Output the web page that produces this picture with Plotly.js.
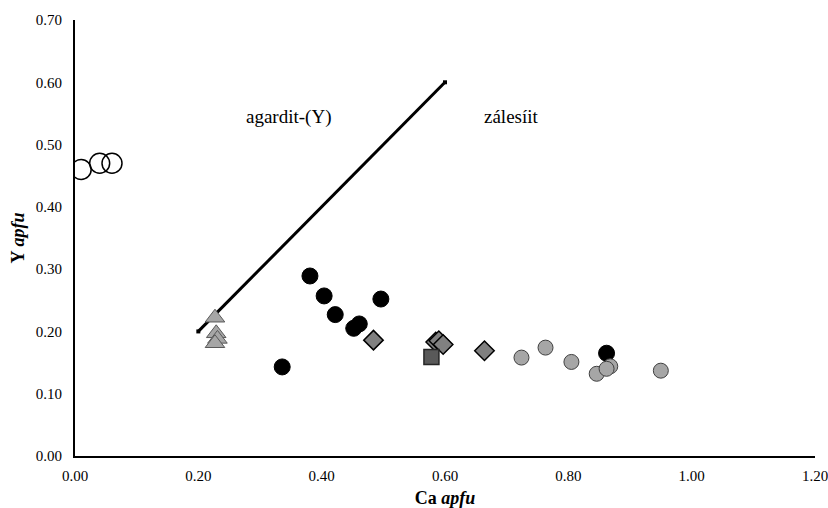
<!DOCTYPE html>
<html><head><meta charset="utf-8">
<script src="https://cdn.plot.ly/plotly-3.0.1.min.js"></script>
<style>body{margin:0;background:#fff}#c{width:828px;height:508px}</style>
</head><body><div id="c"></div>
<script>
// Boundary line agardit-(Y) / zálesíit
const lineCa = [0.20, 0.60];
const lineY  = [0.20, 0.60];
// Open circles
const openCa = [0.01, 0.04, 0.06];
const openY  = [0.46, 0.47, 0.47];
// Gray triangles
const triCa = [0.227, 0.229, 0.231, 0.227];
const triY  = [0.222, 0.197, 0.188, 0.181];
// Black circles
const blackCa = [0.381, 0.404, 0.422, 0.452, 0.461, 0.496, 0.336, 0.862];
const blackY  = [0.289, 0.257, 0.227, 0.205, 0.212, 0.252, 0.143, 0.165];
// Gray diamonds
const diaCa = [0.484, 0.585, 0.590, 0.597, 0.664];
const diaY  = [0.186, 0.183, 0.185, 0.179, 0.169];
// Dark square
const sqCa = [0.578];
const sqY  = [0.159];
// Gray circles
const grayCa = [0.724, 0.763, 0.805, 0.868, 0.846, 0.862, 0.950];
const grayY  = [0.158, 0.174, 0.151, 0.144, 0.132, 0.140, 0.137];

const xTicks = [0, 0.2, 0.4, 0.6, 0.8, 1.0, 1.2];
const yTicks = [0, 0.1, 0.2, 0.3, 0.4, 0.5, 0.6, 0.7];

const serif = 'Liberation Serif';

const traces = [
  {x: lineCa, y: lineY, mode: 'lines+markers', line: {color: '#000', width: 3},
   marker: {symbol: 'square', size: 4, color: '#000'}, hoverinfo: 'skip'},
  {x: openCa, y: openY, mode: 'markers',
   marker: {symbol: 'circle', size: 20, color: 'rgba(255,255,255,0)', line: {color: '#000', width: 1.5}}},
  {x: triCa, y: triY, mode: 'markers',
   marker: {symbol: 'triangle-up', size: 17, color: '#a6a6a6', line: {color: '#595959', width: 1}}},
  {x: blackCa, y: blackY, mode: 'markers',
   marker: {symbol: 'circle', size: 16, color: '#000', line: {color: '#000', width: 1}}},
  {x: diaCa, y: diaY, mode: 'markers',
   marker: {symbol: 'diamond', size: 15, color: '#808080', line: {color: '#000', width: 1.5}}},
  {x: sqCa, y: sqY, mode: 'markers',
   marker: {symbol: 'square', size: 15, color: '#595959', line: {color: '#262626', width: 1.5}}},
  {x: grayCa, y: grayY, mode: 'markers',
   marker: {symbol: 'circle', size: 15, color: '#a6a6a6', line: {color: '#404040', width: 1}}}
];

const layout = {
  width: 828, height: 508,
  margin: {l: 75, r: 13, t: 20, b: 52},
  paper_bgcolor: '#fff', plot_bgcolor: '#fff',
  showlegend: false,
  font: {family: serif, color: '#000', size: 15},
  xaxis: {
    range: [0, 1.2], tickvals: xTicks, tickformat: '.2f',
    showgrid: false, zeroline: false, showline: true, linecolor: '#000', linewidth: 2,
    ticks: '', ticklabelstandoff: 5, ticklabeloverflow: 'allow', tickfont: {family: serif, size: 15, color: '#000'},
    title: {text: '<b>Ca <i>apfu</i></b>', font: {family: serif, size: 18, color: '#000'}, standoff: 8}
  },
  yaxis: {
    range: [0, 0.7], tickvals: yTicks, tickformat: '.2f',
    showgrid: false, zeroline: false, showline: true, linecolor: '#000', linewidth: 2,
    ticks: '', ticklabelstandoff: 8, ticklabeloverflow: 'allow', tickfont: {family: serif, size: 15, color: '#000'},
    title: {text: '<b>Y <i>apfu</i></b>', font: {family: serif, size: 18, color: '#000'}, standoff: 6}
  },
  annotations: [
    {x: 0.3465, y: 0.545, xref: 'x', yref: 'y', text: 'agardit-(Y)', showarrow: false,
     font: {family: serif, size: 19, color: '#000'}},
    {x: 0.708, y: 0.545, xref: 'x', yref: 'y', text: 'zálesíit', showarrow: false,
     font: {family: serif, size: 19, color: '#000'}}
  ]
};

Plotly.newPlot('c', traces, layout, {displayModeBar: false, staticPlot: true});
</script>
</body></html>
